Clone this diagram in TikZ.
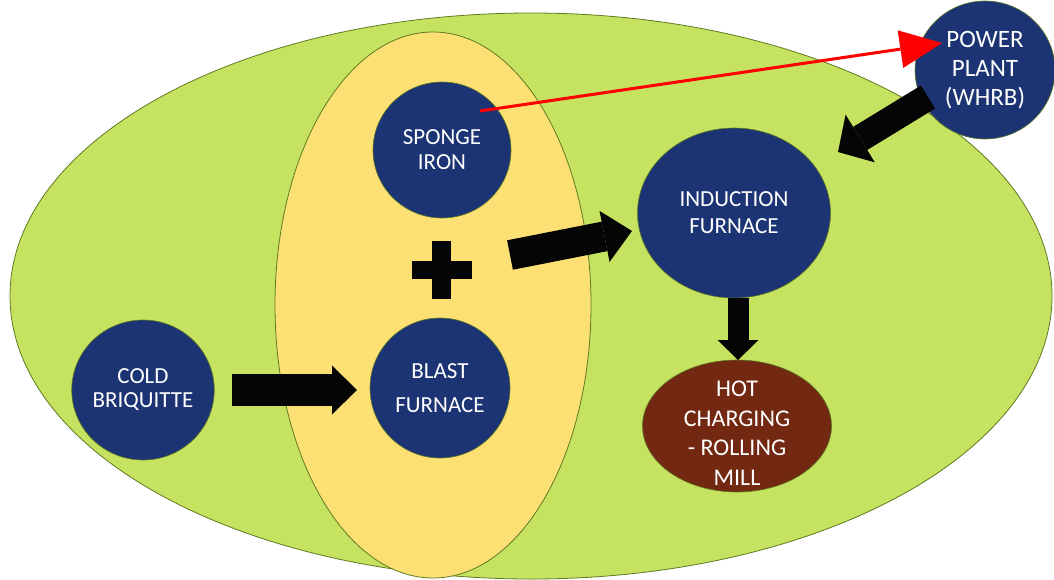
\documentclass[tikz,border=0pt]{standalone}
\usepackage{fontspec}
\setmainfont{Carlito}
\usetikzlibrary{shapes.geometric,arrows.meta}
\definecolor{leaf}{HTML}{C5E261}
\definecolor{sand}{HTML}{FDE074}
\definecolor{navy}{HTML}{1C3473}
\definecolor{rust}{HTML}{722811}
\definecolor{rim}{HTML}{5F7A22}
\definecolor{ink}{HTML}{050505}
\tikzset{
  zone/.style={ellipse, draw=rim, line width=0.8, inner sep=0},
  unit/.style={ellipse, fill=navy, draw=rim, line width=0.6, inner sep=0,
    text=white, align=center},
  lbl/.style 2 args={font=\fontsize{#1}{#2}\selectfont},
  caption/.style={text=white, align=center, inner sep=0},
}
\begin{document}
\begin{tikzpicture}[x=1pt,y=-1pt]
\useasboundingbox (0,0) rectangle (1054,579);
\clip (0,0) rectangle (1054,579);

% enclosing zones
\node[zone, fill=leaf, minimum width=1042, minimum height=566] (plant) at (531,296) {};
\node[zone, fill=sand, minimum width=316, minimum height=546] (feed) at (433,305) {};

% process units
\node[unit, minimum width=138, minimum height=136, lbl={23}{25}] (sponge) at (442,150) {SPONGE\\IRON};
\node[unit, minimum width=140, minimum height=140, lbl={23}{34}] (blast) at (440,388) {BLAST\\FURNACE};
\node[unit, minimum width=140, minimum height=140, lbl={23}{24}] (cold) at (143,390) {COLD\\BRIQUITTE};
\node[unit, minimum width=193, minimum height=170, lbl={23}{27}] (induct) at (734,213) {INDUCTION\\FURNACE};
\node[unit, fill=rust, minimum width=189, minimum height=132] (mill) at (737,426) {};
\node[caption, lbl={24}{29.5}] (milltext) at (737,433) {HOT\\CHARGING\\- ROLLING\\MILL};
\node[unit, minimum width=140, minimum height=138, lbl={25}{29}] (power) at (985,70) {POWER\\PLANT\\(WHRB)};

% plus sign
\fill[ink] (432,241) rectangle (451,299);
\fill[ink] (412,261) rectangle (472,279);

% block arrows
\coordinate (c1) at (232,390);
\coordinate (c2) at (357,390);
\draw[ink, line width=32, -{Triangle[length=25, width=49, line width=0pt]}] (c1) -- (c2);

\coordinate (d1) at (510,255);
\coordinate (d2) at (632,231);
\draw[ink, line width=30, -{Triangle[length=28, width=52, line width=0pt]}] (d1) -- (d2);

\coordinate (e1) at (738,298);
\coordinate (e2) at (738,360);
\draw[ink, line width=21, -{Triangle[length=20, width=41, line width=0pt]}] (e1) -- (e2);

\coordinate (p1) at (928,97);
\coordinate (p2) at (838,152);
\draw[ink, line width=27, -{Triangle[length=26, width=56, line width=0pt]}] (p1) -- (p2);

% waste heat route
\coordinate (r1) at (480,111);
\coordinate (r2) at (942,43);
\draw[red, line width=3, -{Triangle[length=42, width=38, line width=0pt]}] (r1) -- (r2);
\end{tikzpicture}
\end{document}
